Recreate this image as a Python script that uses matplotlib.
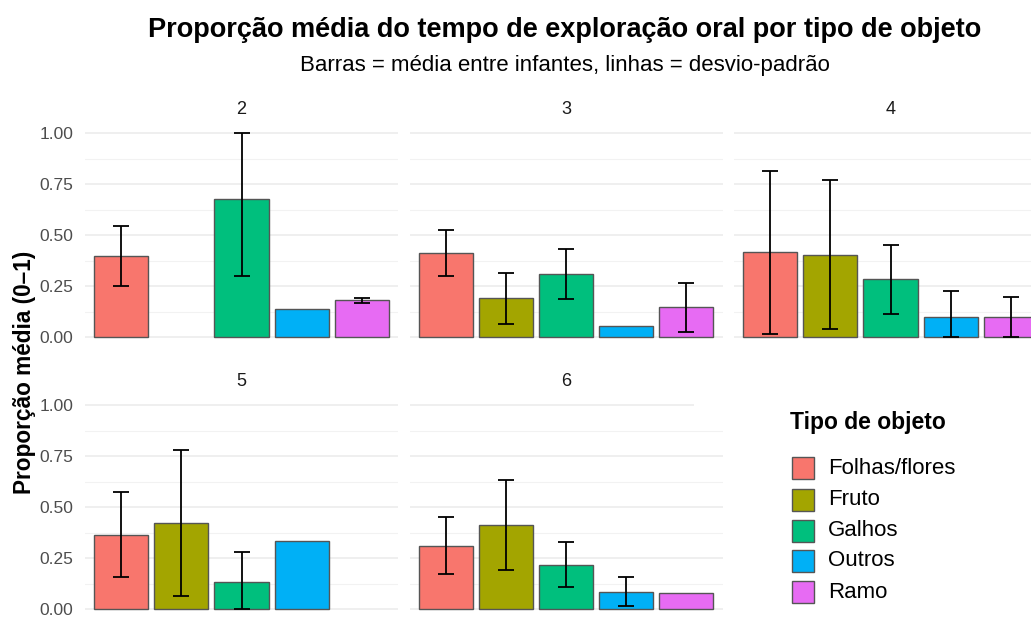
import matplotlib
matplotlib.use("Agg")
import matplotlib.pyplot as plt
from matplotlib.patches import Rectangle

plt.rcParams["font.family"] = ["Liberation Sans", "DejaVu Sans"]

# =========================================================
# data
# =========================================================
IDADES = ["2", "3", "4", "5", "6"]
TIPOS = ["Folhas/flores", "Fruto", "Galhos", "Outros", "Ramo"]
CORES = ["#F8766D", "#A3A500", "#00BF7D", "#00B0F6", "#E76BF3"]

# mean proportion per object type (None = type not observed)
MEDIA_2 = [0.400, None, 0.676, 0.140, 0.181]
MEDIA_3 = [0.413, 0.190, 0.310, 0.055, 0.147]
MEDIA_4 = [0.417, 0.405, 0.283, 0.100, 0.100]
MEDIA_5 = [0.365, 0.422, 0.130, 0.334, None]
MEDIA_6 = [0.311, 0.411, 0.218, 0.085, 0.080]

# standard deviation (None = single infant, no line)
DP_2 = [0.147, None, 0.376, None, 0.012]
DP_3 = [0.111, 0.124, 0.122, None, 0.121]
DP_4 = [0.400, 0.366, 0.169, 0.125, 0.097]
DP_5 = [0.208, 0.358, 0.150, None, None]
DP_6 = [0.141, 0.220, 0.110, 0.070, None]

MEDIAS = [MEDIA_2, MEDIA_3, MEDIA_4, MEDIA_5, MEDIA_6]
DPS = [DP_2, DP_3, DP_4, DP_5, DP_6]

TITULO = "Proporção média do tempo de exploração oral por tipo de objeto"
SUBTITULO = "Barras = média entre infantes, linhas = desvio-padrão"
YLABEL = "Proporção média (0–1)"

# =========================================================
# layout helpers (pixel boxes)
# =========================================================
W, H = 1031, 617
fig = plt.figure(figsize=(W / 100, H / 100), dpi=100)


def px_axes(x0, y0, x1, y1):
    return fig.add_axes([x0 / W, 1 - y1 / H, (x1 - x0) / W, (y1 - y0) / H])


COL_X = [85, 409.5, 734]
PANEL_W = 313
ROW_Y = [(123, 347.4), (394.8, 619.2)]
GRID = "#EBEBEB"
TXT = "#4D4D4D"

for k, (idade, medias, dps) in enumerate(zip(IDADES, MEDIAS, DPS)):
    row, col = divmod(k, 3)
    x0 = COL_X[col]
    y0, y1 = ROW_Y[row]
    ax = px_axes(x0, y0, x0 + PANEL_W, y1)

    xs, hs, cs, ex, ey, elo, ehi = [], [], [], [], [], [], []
    for i, (m, sd) in enumerate(zip(medias, dps)):
        if m is None:
            continue
        xs.append(i + 1)
        hs.append(m)
        cs.append(CORES[i])
        if sd is not None:
            lo = max(0.0, m - sd)
            hi = min(1.0, m + sd)
            ex.append(i + 1)
            ey.append(m)
            elo.append(m - lo)
            ehi.append(hi - m)

    ax.bar(xs, hs, width=0.9, color=cs, edgecolor="#555555", linewidth=1.0, zorder=2)
    ax.errorbar(ex, ey, yerr=[elo, ehi], fmt="none", ecolor="black",
                elinewidth=1.3, capsize=6, capthick=1.3, zorder=3)

    ax.set_xlim(0.4, 5.6)
    ax.set_ylim(-0.05, 1.05)
    ax.set_xticks([])
    ax.set_yticks([0, 0.25, 0.5, 0.75, 1.0])
    ax.set_yticks([0.125, 0.375, 0.625, 0.875], minor=True)
    ax.grid(axis="y", which="major", color=GRID, linewidth=1.1, zorder=0)
    ax.grid(axis="y", which="minor", color="#F2F2F2", linewidth=0.8, zorder=0)
    ax.set_axisbelow(True)
    for s in ax.spines.values():
        s.set_visible(False)
    ax.tick_params(axis="y", which="both", length=0, pad=8.5, labelsize=12.5, labelcolor=TXT)
    if col == 0:
        ax.set_yticklabels(["0.00", "0.25", "0.50", "0.75", "1.00"])
    else:
        ax.set_yticklabels([])
    ax.set_title(idade, fontsize=13, color="#1A1A1A", pad=6.5)

# =========================================================
# legend (drawn in the empty facet slot)
# =========================================================
lax = px_axes(694, 395, W, H)
lax.set_xlim(694, W)
lax.set_ylim(H, 395)
lax.axis("off")
lax.add_patch(Rectangle((694, 395), W - 694, 30, facecolor="white", edgecolor="none", zorder=1))
lax.text(790, 423, "Tipo de objeto", fontsize=16.5, fontweight="bold", va="center", ha="left", zorder=2)
key_y = [468, 499.5, 530.5, 561, 592]
for yc, nome, cor in zip(key_y, TIPOS, CORES):
    lax.add_patch(Rectangle((792, yc - 11), 22, 22, facecolor=cor, edgecolor="#555555",
                            linewidth=1.0, zorder=2))
    lax.text(828, yc, nome, fontsize=16, va="center", ha="left", zorder=2)

# =========================================================
# titles
# =========================================================
fig.text(565 / W, 1 - 30 / H, TITULO, fontsize=19.5, fontweight="bold", ha="center", va="center")
fig.text(565 / W, 1 - 65 / H, SUBTITULO, fontsize=16, ha="center", va="center")
fig.text(25 / W, 1 - 372 / H, YLABEL, fontsize=16.3, fontweight="bold", rotation=90,
         ha="center", va="center")

fig.savefig("out.png", dpi=100)
